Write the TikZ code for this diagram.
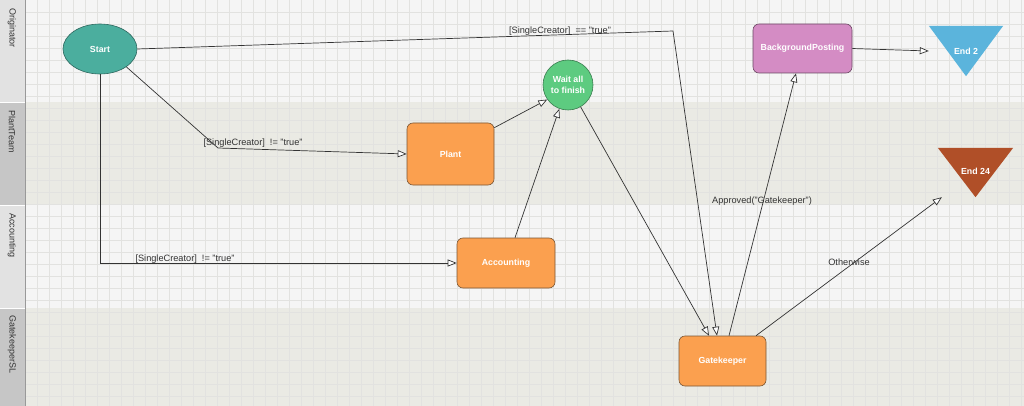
\documentclass[tikz,border=0pt]{standalone}
\usepackage{fontspec}
\setmainfont{Liberation Sans}
\usetikzlibrary{shapes.geometric,arrows.meta}
\definecolor{laneA}{HTML}{F5F5F5}
\definecolor{laneB}{HTML}{EAEAE4}
\definecolor{hdrA}{HTML}{E2E2E2}
\definecolor{hdrB}{HTML}{C6C6C6}
\definecolor{gridc}{HTML}{E2E2E0}
\definecolor{taskorange}{HTML}{FBA04F}
\definecolor{taskborder}{HTML}{7A5634}
\definecolor{startteal}{HTML}{4BAE9E}
\definecolor{waitgreen}{HTML}{5DCB80}
\definecolor{bgpink}{HTML}{D48CC4}
\definecolor{endblue}{HTML}{5BB4DC}
\definecolor{endbrown}{HTML}{B04F28}
\definecolor{linec}{HTML}{333333}
\begin{document}
\begin{tikzpicture}[x=1pt,y=-1pt,
  nodetext/.style={text=white,font=\fontsize{8.8}{10.5}\selectfont\bfseries,align=center},
  task/.style={nodetext,rectangle,rounded corners=6pt,draw=taskborder,line width=0.6pt,fill=taskorange,inner sep=0pt},
  flow/.style={draw=linec,line width=0.7pt,-{Triangle[length=9pt,width=7pt,fill=white]}},
  elabel/.style={text=linec,font=\fontsize{9.2}{10}\selectfont,inner sep=1pt},
  hdr/.style={rotate=-90,anchor=west,text=linec,font=\fontsize{9}{10}\selectfont,inner sep=0pt}]
\useasboundingbox (0,0) rectangle (1024,406);
% lanes
\fill[laneA] (25,0) rectangle (1024,102);
\fill[laneB] (25,102) rectangle (1024,205);
\fill[laneA] (25,205) rectangle (1024,308);
\fill[laneB] (25,308) rectangle (1024,406);
% grid
\foreach \x in {37,49,...,1024} \draw[gridc,line width=0.6pt] (\x,0) -- (\x,406);
\foreach \y in {12,24,...,406} \draw[gridc,line width=0.6pt] (25,\y) -- (1024,\y);
% headers
\fill[hdrA] (0,0) rectangle (25,102);
\fill[hdrB] (0,102) rectangle (25,205);
\fill[hdrA] (0,205) rectangle (25,308);
\fill[hdrB] (0,308) rectangle (25,406);
\draw[white,line width=0.6pt] (0,102) -- (25,102) (0,205) -- (25,205) (0,308) -- (25,308);
\draw[gray!80,line width=1pt] (25,0) -- (25,406);
\node[hdr] (h1) at (12,8) {Originator};
\node[hdr] (h2) at (12,110) {PlantTeam};
\node[hdr] (h3) at (12,213) {Accounting};
\node[hdr] (h4) at (12,315) {GatekeeperSL};
% nodes
\node[nodetext,ellipse,draw=startteal!60!black,line width=0.6pt,fill=startteal,minimum width=74pt,minimum height=50pt,inner sep=0pt] (start) at (100,49) {Start};
\node[nodetext,circle,draw=waitgreen!60!black,line width=0.6pt,fill=waitgreen,minimum size=50pt,inner sep=0pt] (wait) at (568,85) {Wait all\\to finish};
\node[task,minimum width=87pt,minimum height=62pt] (plant) at (450.5,154) {Plant};
\node[task,minimum width=98pt,minimum height=50pt] (acc) at (506,263) {Accounting};
\node[task,minimum width=87pt,minimum height=50pt] (gate) at (722.5,361) {Gatekeeper};
\node[task,draw=bgpink!50!black,fill=bgpink,minimum width=99pt,minimum height=49pt] (bg) at (802.5,48.5) {BackgroundPosting};
% end triangles
\node[minimum width=74pt,minimum height=50pt,inner sep=0pt] (e2) at (966,51) {};
\fill[endblue] (e2.north west) -- (e2.north east) -- (e2.south) -- cycle;
\node[nodetext] (e2t) at (966,51) {End 2};
\node[minimum width=75pt,minimum height=49pt,inner sep=0pt] (e24) at (975.5,172.5) {};
\fill[endbrown] (e24.north west) -- (e24.north east) -- (e24.south) -- cycle;
\node[nodetext] (e24t) at (975.5,171.5) {End 24};
% connectors
\coordinate (c1) at (673,31);
\draw[flow] (start.east) -- (c1) -- ([xshift=-5.5pt]gate.north);
\node[elabel] (l1) at (560,31) {[SingleCreator]\ \ == "true"};
\coordinate (c2) at (218,148);
\draw[flow] (start.south east) -- (c2) -- (plant.west);
\node[elabel] (l2) at (253,143) {[SingleCreator]\ \ != "true"};
\draw[flow] (start.south) |- (acc.west);
\node[elabel] (l3) at (185,259) {[SingleCreator]\ \ != "true"};
\draw[flow] ([yshift=-5pt]plant.north east) -- (wait.215);
\draw[flow] ([xshift=9pt]acc.north) -- (wait.250);
\draw[flow] (wait.300) -- ([xshift=-13.5pt]gate.north);
\draw[flow] ([xshift=6.5pt]gate.north) -- ([xshift=-6.5pt]bg.south);
\node[elabel] (l4) at (762,201) {Approved("Gatekeeper")};
\draw[flow] ([xshift=33.5pt]gate.north) -- ([xshift=4pt]e24.south west);
\node[elabel] (l5) at (849,262) {Otherwise};
\draw[flow] (bg.east) -- (e2.west);
\end{tikzpicture}
\end{document}
